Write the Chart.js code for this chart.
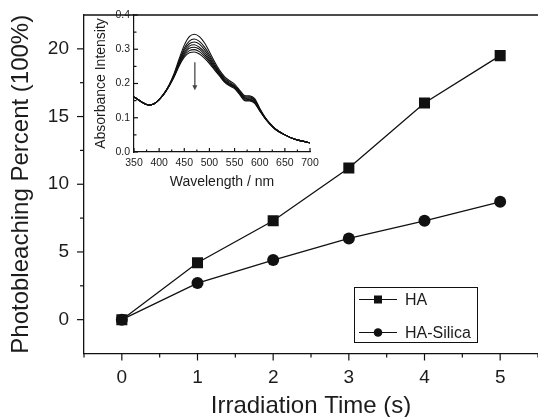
<!DOCTYPE html>
<html><head><meta charset="utf-8">
<script src="https://cdn.jsdelivr.net/npm/chart.js@4.4.1/dist/chart.umd.min.js"></script>
<style>
html,body{margin:0;padding:0;background:#fff;overflow:hidden;}
#wrap{position:relative;width:538px;height:417px;}
#main{position:absolute;left:0;top:0;}
#inset{position:absolute;left:88px;top:0;}
</style></head><body>
<div id="wrap">
<canvas id="main" width="538" height="417"></canvas>
<canvas id="inset" width="234" height="195"></canvas>
</div>
<script>
// ---------- main chart data ----------
const times = [0, 1, 2, 3, 4, 5];
const haValues = [0, 4.2, 7.3, 11.2, 16.0, 19.5];
const haSilicaValues = [0, 2.7, 4.4, 6.0, 7.3, 8.7];
const seriesLabels = ['HA', 'HA-Silica'];
const xTicks = [0, 1, 2, 3, 4, 5];
const xMinorTicks = [-0.5, 0.5, 1.5, 2.5, 3.5, 4.5, 5.5];
const yTicks = [0, 5, 10, 15, 20];
const yMinorTicks = [2.5, 7.5, 12.5, 17.5];

// ---------- inset data ----------
const wavelengths = [350,360,370,380,390,400,410,420,430,440,450,460,470,480,490,500,510,520,530,540,550,560,570,580,590,600,610,620,630,650,670,690,700];
const spectrum1 = [.161,.151,.142,.137,.141,.153,.171,.196,.230,.273,.312,.337,.344,.337,.319,.293,.264,.239,.220,.208,.198,.181,.165,.164,.156,.128,.103,.084,.069,.050,.037,.030,.027];
const spectrum2 = [.161,.151,.142,.137,.141,.153,.171,.195,.227,.267,.303,.324,.330,.323,.307,.284,.258,.234,.216,.204,.194,.178,.162,.161,.153,.126,.102,.083,.069,.050,.037,.030,.027];
const spectrum3 = [.161,.151,.142,.137,.141,.153,.171,.195,.226,.264,.297,.316,.321,.315,.299,.278,.253,.232,.213,.201,.192,.176,.159,.158,.150,.124,.101,.083,.068,.050,.037,.030,.027];
const spectrum4 = [.161,.151,.142,.137,.141,.153,.170,.194,.224,.260,.291,.309,.313,.306,.292,.272,.250,.229,.210,.199,.190,.174,.157,.155,.148,.123,.101,.083,.068,.050,.037,.030,.027];
const spectrum5 = [.161,.151,.142,.137,.141,.153,.170,.194,.223,.258,.286,.303,.306,.300,.286,.267,.246,.227,.208,.197,.189,.172,.155,.153,.146,.122,.100,.082,.068,.050,.037,.030,.027];
const spectrum6 = [.161,.151,.142,.137,.141,.153,.170,.193,.221,.255,.282,.296,.299,.293,.280,.263,.243,.224,.206,.195,.187,.170,.152,.151,.144,.121,.100,.082,.068,.050,.037,.030,.027];
const spectrum7 = [.161,.151,.142,.137,.141,.153,.170,.193,.220,.252,.277,.290,.292,.286,.274,.258,.240,.222,.204,.193,.185,.168,.150,.149,.142,.120,.099,.082,.068,.050,.037,.030,.027];
const spectra = [spectrum1, spectrum2, spectrum3, spectrum4, spectrum5, spectrum6, spectrum7];
const insetXTicks = [350, 400, 450, 500, 550, 600, 650, 700];
const insetXMinorTicks = [375, 425, 475, 525, 575, 625, 675];
const insetYTicks = [0, 0.1, 0.2, 0.3, 0.4];
const insetYMinorTicks = [0.05, 0.15, 0.25, 0.35];
const arrowWavelength = 471;
const arrowFrom = 0.262;
const arrowTo = 0.180;

const FONT = "'Liberation Sans', Arial, Helvetica, sans-serif";
const INK = '#1c1c1c';
const LINE = '#111111';

function zeroPad(s) {
  s.paddingLeft = 0; s.paddingRight = 0; s.paddingTop = 0; s.paddingBottom = 0;
}

function tickDrawer(id, specs) {
  return {
    id,
    afterDraw(chart) {
      const ctx = chart.ctx;
      ctx.save();
      ctx.strokeStyle = LINE;
      ctx.lineWidth = 1.2;
      specs.forEach(s => {
        const sc = chart.scales[s.axis];
        s.values.forEach(v => {
          const p = sc.getPixelForValue(v);
          ctx.beginPath();
          if (s.axis === 'x') {
            const y0 = chart.chartArea.bottom;
            ctx.moveTo(p, y0);
            ctx.lineTo(p, y0 + s.dir * s.len);
          } else {
            const x0 = chart.chartArea.left;
            ctx.moveTo(x0, p);
            ctx.lineTo(x0 + s.dir * s.len, p);
          }
          ctx.stroke();
        });
      });
      ctx.restore();
    }
  };
}

// ---------- main chart ----------
const topBorder = {
  id: 'topBorder',
  afterDraw(chart) {
    const {ctx, chartArea} = chart;
    ctx.save();
    ctx.strokeStyle = LINE;
    ctx.lineWidth = 1.3;
    ctx.beginPath();
    ctx.moveTo(chartArea.left, chartArea.top);
    ctx.lineTo(chartArea.right, chartArea.top);
    ctx.stroke();
    ctx.restore();
  }
};

const boxLegend = {
  id: 'boxLegend',
  afterDraw(chart) {
    const ctx = chart.ctx;
    const bx = 354, by = 287, bw = 123, bh = 55;
    ctx.save();
    ctx.fillStyle = '#fff';
    ctx.fillRect(bx, by, bw, bh);
    ctx.strokeStyle = LINE;
    ctx.lineWidth = 1;
    ctx.strokeRect(bx + 0.5, by + 0.5, bw, bh);
    chart.data.datasets.forEach((ds, i) => {
      const y = by + 12.5 + i * 33;
      ctx.strokeStyle = LINE;
      ctx.lineWidth = 1.2;
      ctx.beginPath();
      ctx.moveTo(bx + 5, y);
      ctx.lineTo(bx + 43, y);
      ctx.stroke();
      ctx.fillStyle = LINE;
      const cx = bx + 24;
      if (ds.pointStyle === 'rect') {
        ctx.fillRect(cx - 4, y - 4, 8, 8);
      } else {
        ctx.beginPath();
        ctx.arc(cx, y, 4.3, 0, Math.PI * 2);
        ctx.fill();
      }
      ctx.fillStyle = INK;
      ctx.font = '16px ' + FONT;
      ctx.textBaseline = 'middle';
      ctx.textAlign = 'left';
      ctx.fillText(ds.label, bx + 51, y + 1);
    });
    ctx.restore();
  }
};

new Chart(document.getElementById('main'), {
  type: 'line',
  data: {
    datasets: [
      {
        label: seriesLabels[0],
        data: times.map((t, i) => ({x: t, y: haValues[i]})),
        borderColor: LINE, backgroundColor: LINE, borderWidth: 1.3,
        pointStyle: 'rect', pointRadius: 7.8, pointBorderWidth: 0,
        pointBackgroundColor: LINE, tension: 0
      },
      {
        label: seriesLabels[1],
        data: times.map((t, i) => ({x: t, y: haSilicaValues[i]})),
        borderColor: LINE, backgroundColor: LINE, borderWidth: 1.3,
        pointStyle: 'circle', pointRadius: 6, pointBorderWidth: 0,
        pointBackgroundColor: LINE, tension: 0
      }
    ]
  },
  options: {
    responsive: false, animation: false, devicePixelRatio: 1,
    layout: {autoPadding: false, padding: {top: 15, right: 0, left: 0, bottom: 0}},
    plugins: {legend: {display: false}, tooltip: {enabled: false}},
    scales: {
      x: {
        type: 'linear', min: -0.5, max: 5.5,
        afterBuildTicks: s => { s.ticks = xTicks.map(v => ({value: v})); },
        afterFit: s => { s.height = 63.5; zeroPad(s); },
        grid: {display: false, drawTicks: false},
        border: {display: true, color: LINE, width: 1.3},
        ticks: {padding: 13, color: INK, font: {family: FONT, size: 19}, maxRotation: 0, autoSkip: false},
        title: {display: true, text: 'Irradiation Time (s)', color: INK,
                font: {family: FONT, size: 24, lineHeight: 0.9}, padding: {top: 0, bottom: 0}}
      },
      y: {
        type: 'linear', min: -2.5, max: 22.5,
        afterBuildTicks: s => { s.ticks = yTicks.map(v => ({value: v})); },
        afterFit: s => { s.width = 84; zeroPad(s); },
        grid: {display: false, drawTicks: false},
        border: {display: true, color: LINE, width: 1.3},
        ticks: {padding: 15, color: INK, font: {family: FONT, size: 19}},
        title: {display: true, text: 'Photobleaching Percent (100%)', color: INK,
                font: {family: FONT, size: 24, lineHeight: 0.9}, padding: {top: 11, bottom: 0}}
      }
    }
  },
  plugins: [topBorder, boxLegend, tickDrawer('mainTicks', [
    {axis: 'x', values: xTicks, len: 7, dir: 1},
    {axis: 'x', values: xMinorTicks, len: 4, dir: 1},
    {axis: 'y', values: yTicks, len: 7, dir: -1},
    {axis: 'y', values: yMinorTicks, len: 4, dir: -1}
  ])]
});

// ---------- inset chart ----------
const arrowPlugin = {
  id: 'arrow',
  afterDatasetsDraw(chart) {
    const {ctx, scales} = chart;
    const x = scales.x.getPixelForValue(arrowWavelength);
    const y0 = scales.y.getPixelForValue(arrowFrom);
    const y1 = scales.y.getPixelForValue(arrowTo);
    ctx.save();
    ctx.strokeStyle = '#555';
    ctx.fillStyle = '#444';
    ctx.lineWidth = 1.4;
    ctx.beginPath();
    ctx.moveTo(x, y0);
    ctx.lineTo(x, y1 - 4);
    ctx.stroke();
    ctx.beginPath();
    ctx.moveTo(x - 2.5, y1 - 5);
    ctx.lineTo(x + 2.5, y1 - 5);
    ctx.lineTo(x, y1);
    ctx.closePath();
    ctx.fill();
    ctx.restore();
  }
};

new Chart(document.getElementById('inset'), {
  type: 'line',
  data: {
    datasets: spectra.map((s, k) => ({
      label: 'spectrum ' + (k + 1),
      data: wavelengths.map((w, i) => ({x: w, y: s[i]})),
      borderColor: LINE, borderWidth: 1.1, pointRadius: 0,
      cubicInterpolationMode: 'monotone', fill: false
    }))
  },
  options: {
    responsive: false, animation: false, devicePixelRatio: 1,
    layout: {autoPadding: false, padding: {top: 15, right: 12, left: 0, bottom: 0}},
    plugins: {legend: {display: false}, tooltip: {enabled: false}},
    scales: {
      x: {
        type: 'linear', min: 350, max: 700,
        afterBuildTicks: s => { s.ticks = insetXTicks.map(v => ({value: v})); },
        afterFit: s => { s.height = 43; zeroPad(s); },
        grid: {display: false, drawTicks: false},
        border: {display: true, color: LINE, width: 1.2},
        ticks: {padding: 5, color: INK, font: {family: FONT, size: 10.5}, maxRotation: 0, autoSkip: false},
        title: {display: true, text: 'Wavelength / nm', color: INK,
                font: {family: FONT, size: 14, lineHeight: 1.2}, padding: {top: 0, bottom: 4.9}}
      },
      y: {
        type: 'linear', min: 0, max: 0.4,
        afterBuildTicks: s => { s.ticks = insetYTicks.map(v => ({value: v})); },
        afterFit: s => { s.width = 46; zeroPad(s); },
        grid: {display: false, drawTicks: false},
        border: {display: true, color: LINE, width: 1.2},
        ticks: {padding: 4, color: INK, font: {family: FONT, size: 10.5}, callback: v => Number(v).toFixed(1)},
        title: {display: true, text: 'Absorbance Intensity', color: INK,
                font: {family: FONT, size: 14, lineHeight: 1.2}, padding: {top: 4.6, bottom: 0}}
      }
    }
  },
  plugins: [arrowPlugin, tickDrawer('insetTicks', [
    {axis: 'x', values: insetXTicks, len: 4, dir: -1},
    {axis: 'x', values: insetXMinorTicks, len: 2.5, dir: -1},
    {axis: 'y', values: insetYTicks, len: 4, dir: 1},
    {axis: 'y', values: insetYMinorTicks, len: 2.5, dir: 1}
  ])]
});
</script>
</body></html>
